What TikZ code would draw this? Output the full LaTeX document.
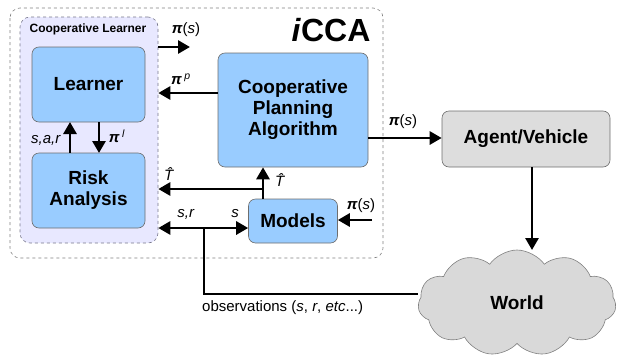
\documentclass[tikz,border=0pt]{standalone}
\usepackage{fontspec}
\setmainfont{Liberation Sans}
\usetikzlibrary{arrows.meta,shapes.symbols,calc}
\definecolor{boxblue}{RGB}{153,204,255}
\definecolor{boxedge}{RGB}{110,110,110}
\definecolor{lav}{RGB}{232,232,255}
\definecolor{lavedge}{RGB}{120,120,140}
\definecolor{agentgray}{RGB}{221,221,221}
\definecolor{cloudgray}{RGB}{217,217,217}
\newcommand{\bpi}{\textbf{\textit{π}}}
\begin{document}
\begin{tikzpicture}[x=1pt,y=-1pt,
  bluebox/.style={draw=boxedge,fill=boxblue,rounded corners=7pt,line width=0.6pt,
    font=\fontsize{19}{21}\selectfont\bfseries,align=center,inner sep=0pt},
  arr/.style={line width=2.8pt,-{Triangle[length=12pt,width=13pt]}},
  darr/.style={line width=2.8pt,{Triangle[length=12pt,width=13pt]}-{Triangle[length=12pt,width=13pt]}},
  lbl/.style={font=\fontsize{15}{17}\selectfont,inner sep=1pt}]
\useasboundingbox (0,0) rectangle (620,359);
% outer iCCA region
\draw[dashed,draw=gray,line width=0.6pt,rounded corners=10pt] (10,8) rectangle (383,258);
\node[font=\fontsize{32}{34}\selectfont\bfseries] (icca) at (331,30) {\textit{i}CCA};
% cooperative learner group
\node[draw=lavedge,dashed,fill=lav,rounded corners=10pt,line width=0.6pt,
  minimum width=138pt,minimum height=226pt,inner sep=0pt] (grp) at (89,130) {};
\node[font=\fontsize{12}{14}\selectfont\bfseries] (grplbl) at (88,29) {Cooperative Learner};
% boxes
\node[bluebox,minimum width=113pt,minimum height=75pt] (learner) at (88.5,84.5) {Learner};
\node[bluebox,minimum width=113pt,minimum height=75pt] (risk) at (88.5,190.5) {Risk\\Analysis};
\node[bluebox,minimum width=150pt,minimum height=114pt] (coop) at (293,110) {Cooperative\\Planning\\Algorithm};
\node[bluebox,minimum width=89pt,minimum height=44pt] (models) at (293,221) {Models};
\node[bluebox,fill=agentgray,minimum width=168pt,minimum height=56pt] (agent) at (526,139) {Agent/Vehicle};
\node[cloud,cloud puffs=11,cloud puff arc=110,aspect=1.9,draw=gray,fill=cloudgray,line width=0.6pt,
  minimum width=198pt,minimum height=106pt,inner sep=0pt,
  font=\fontsize{19}{21}\selectfont\bfseries] (world) at (517,303) {World};
% coordinates
\coordinate (pout1) at (158,47);
\coordinate (pout2) at (190,47);
\coordinate (pin1) at (372,220);
\coordinate (tj) at (263,189);
\coordinate (sj) at (204,228);
\coordinate (sb) at (204,294);
% connectors
\draw[arr] (pout1) -- (pout2);
\node[lbl] (lpis1) at (186,30) {\bpi(\textit{s})};
\draw[arr] (coop.west |- 0,93) -- (grp.east |- 0,93);
\node[lbl] (lpip) at (181,79) {\bpi\,\textsuperscript{\textit{p}}};
\draw[arr] (70,153) -- (70,122);
\node[lbl] (lsar) at (46,140) {\textit{s,a,r}};
\draw[arr] (99,122) -- (99,153);
\node[lbl] (lpil) at (117,136) {\bpi\,\textsuperscript{\textit{l}}};
\draw[arr] (models.north -| tj) -- (coop.south -| tj);
\draw[arr] (tj) -- (grp.east |- tj);
\node[lbl] (lt1) at (170,174) {\textit{\^{T}}};
\node[lbl] (lt2) at (281,180) {\textit{\^{T}}};
\draw[darr] (grp.east |- 0,228) -- (models.west |- 0,228);
\node[lbl] (lsr) at (186,214) {\textit{s,r}};
\node[lbl] (ls) at (235,214) {\textit{s}};
\draw[line width=2.8pt] (sj) -- (sb) -- (world.west |- sb);
\node[lbl,anchor=west] (lobs) at (201,308) {observations (\textit{s}, \textit{r}, \textit{etc}...)};
\draw[arr] (pin1) -- (models.east |- pin1);
\node[lbl] (lpis2) at (361,206) {\bpi(\textit{s})};
\draw[arr] (coop.east |- 0,138) -- (agent.west |- 0,138);
\node[lbl] (lpis3) at (403,122) {\bpi(\textit{s})};
\draw[arr] (agent.south -| 532,0) -- (532,250);
\end{tikzpicture}
\end{document}
